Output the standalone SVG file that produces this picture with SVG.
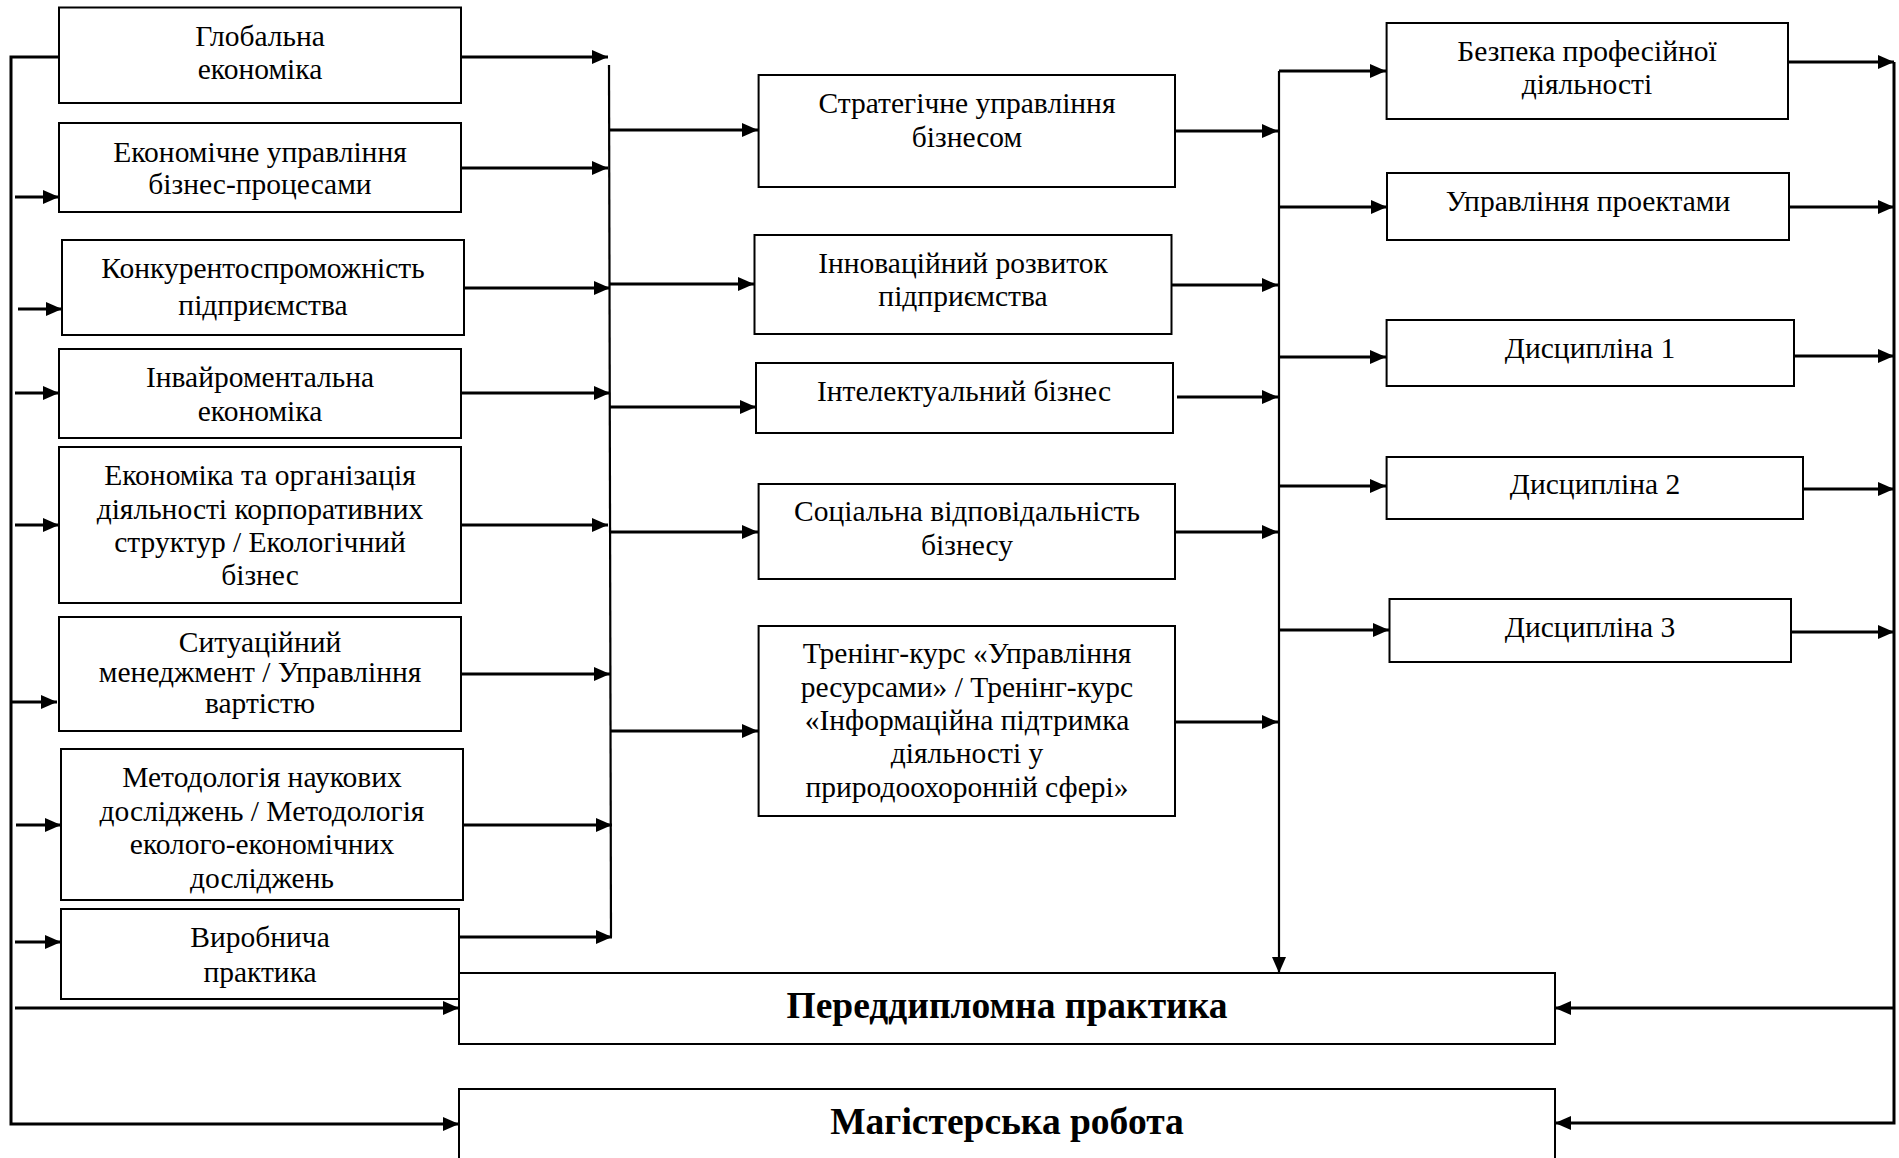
<svg xmlns="http://www.w3.org/2000/svg" width="1899" height="1158" viewBox="0 0 1899 1158">
<defs>
<marker id="ah" markerUnits="userSpaceOnUse" markerWidth="16" markerHeight="14" refX="16" refY="7" orient="auto">
<path d="M0,0 L16,7 L0,14 z" fill="#000"/>
</marker>
<style>
.box{fill:#fff;stroke:#000;stroke-width:2}
.t{font-family:"Liberation Serif","Times New Roman",serif;font-size:29.5px;fill:#000;text-anchor:middle}
.b{font-family:"Liberation Serif","Times New Roman",serif;font-size:37.5px;font-weight:bold;fill:#000;text-anchor:middle}
.c{stroke:#000;stroke-width:3;fill:none}
.a{stroke:#000;stroke-width:3;fill:none;marker-end:url(#ah)}
.bus{stroke:#000;stroke-width:2.2;fill:none}
</style>
</defs>
<rect width="1899" height="1158" fill="#fff"/>
<g id="connectors">
<path class="a" d="M59,57 H11 V1124 H459"/>
<line class="a" x1="15" y1="197" x2="59" y2="197"/>
<line class="a" x1="18" y1="309" x2="62" y2="309"/>
<line class="a" x1="15" y1="393" x2="59" y2="393"/>
<line class="a" x1="15" y1="525" x2="59" y2="525"/>
<line class="a" x1="11" y1="702" x2="57" y2="702"/>
<line class="a" x1="16" y1="825" x2="61" y2="825"/>
<line class="a" x1="15" y1="942" x2="61" y2="942"/>
<line class="a" x1="15" y1="1008" x2="459" y2="1008"/>
<line class="a" x1="461" y1="57" x2="608" y2="57"/>
<line class="a" x1="461" y1="168" x2="608" y2="168"/>
<line class="a" x1="464" y1="288" x2="610" y2="288"/>
<line class="a" x1="461" y1="393" x2="610" y2="393"/>
<line class="a" x1="461" y1="525" x2="608" y2="525"/>
<line class="a" x1="461" y1="674" x2="610" y2="674"/>
<line class="a" x1="463" y1="825" x2="612" y2="825"/>
<line class="a" x1="459" y1="937" x2="612" y2="937"/>
<line class="bus" x1="609" y1="65" x2="611" y2="937"/>
<line class="a" x1="609" y1="130" x2="758" y2="130"/>
<line class="a" x1="609" y1="284" x2="754" y2="284"/>
<line class="a" x1="609" y1="407" x2="756" y2="407"/>
<line class="a" x1="611" y1="532" x2="758" y2="532"/>
<line class="a" x1="611" y1="731" x2="758" y2="731"/>
<line class="a" x1="1175" y1="131" x2="1278" y2="131"/>
<line class="a" x1="1172" y1="285" x2="1278" y2="285"/>
<line class="a" x1="1177" y1="397" x2="1278" y2="397"/>
<line class="a" x1="1175" y1="532" x2="1278" y2="532"/>
<line class="a" x1="1175" y1="722" x2="1278" y2="722"/>
<line class="bus" x1="1279" y1="71" x2="1279" y2="973" marker-end="url(#ah)"/>
<line class="a" x1="1279" y1="71" x2="1386" y2="71"/>
<line class="a" x1="1279" y1="207" x2="1387" y2="207"/>
<line class="a" x1="1279" y1="357" x2="1386" y2="357"/>
<line class="a" x1="1279" y1="486" x2="1386" y2="486"/>
<line class="a" x1="1279" y1="630" x2="1389" y2="630"/>
<line class="a" x1="1788" y1="62" x2="1894" y2="62"/>
<line class="a" x1="1789" y1="207" x2="1894" y2="207"/>
<line class="a" x1="1794" y1="356" x2="1894" y2="356"/>
<line class="a" x1="1803" y1="489" x2="1894" y2="489"/>
<line class="a" x1="1791" y1="632" x2="1894" y2="632"/>
<path class="a" d="M1894,62 V1123 H1555"/>
<line class="a" x1="1894" y1="1008" x2="1555" y2="1008"/>
</g>
<g id="n1"><rect class="box" x="59" y="7.5" width="402" height="95.5"/><text class="t" x="260" y="46">Глобальна</text><text class="t" x="260" y="79">економіка</text></g>
<g id="n2"><rect class="box" x="59" y="123" width="402" height="89"/><text class="t" x="260" y="162">Економічне управління</text><text class="t" x="260" y="194">бізнес-процесами</text></g>
<g id="n3"><rect class="box" x="62" y="240" width="402" height="95"/><text class="t" x="263" y="278">Конкурентоспроможність</text><text class="t" x="263" y="315">підприємства</text></g>
<g id="n4"><rect class="box" x="59" y="349" width="402" height="89"/><text class="t" x="260" y="387">Інвайроментальна</text><text class="t" x="260" y="421">економіка</text></g>
<g id="n5"><rect class="box" x="59" y="447" width="402" height="156"/><text class="t" x="260" y="485">Економіка та організація</text><text class="t" x="260" y="519">діяльності корпоративних</text><text class="t" x="260" y="552">структур / Екологічний</text><text class="t" x="260" y="585">бізнес</text></g>
<g id="n6"><rect class="box" x="59" y="617" width="402" height="114"/><text class="t" x="260" y="652">Ситуаційний</text><text class="t" x="260" y="682">менеджмент / Управління</text><text class="t" x="260" y="713">вартістю</text></g>
<g id="n7"><rect class="box" x="61" y="749" width="402" height="151"/><text class="t" x="262" y="787">Методологія наукових</text><text class="t" x="262" y="821">досліджень / Методологія</text><text class="t" x="262" y="854">еколого-економічних</text><text class="t" x="262" y="888">досліджень</text></g>
<g id="n8"><rect class="box" x="61" y="909" width="398" height="90"/><text class="t" x="260" y="947">Виробнича</text><text class="t" x="260" y="982">практика</text></g>
<g id="m1"><rect class="box" x="758.6" y="75" width="416.4" height="112"/><text class="t" x="967" y="113">Стратегічне управління</text><text class="t" x="967" y="147">бізнесом</text></g>
<g id="m2"><rect class="box" x="754.5" y="235" width="417" height="99"/><text class="t" x="963" y="273">Інноваційний розвиток</text><text class="t" x="963" y="306">підприємства</text></g>
<g id="m3"><rect class="box" x="756" y="363" width="417" height="70"/><text class="t" x="964" y="401">Інтелектуальний бізнес</text></g>
<g id="m4"><rect class="box" x="758.6" y="484" width="416.4" height="95"/><text class="t" x="967" y="521">Соціальна відповідальність</text><text class="t" x="967" y="555">бізнесу</text></g>
<g id="m5"><rect class="box" x="758.6" y="626" width="416.4" height="190"/><text class="t" x="967" y="663">Тренінг-курс «Управління</text><text class="t" x="967" y="697">ресурсами» / Тренінг-курс</text><text class="t" x="967" y="730">«Інформаційна підтримка</text><text class="t" x="967" y="763">діяльності у</text><text class="t" x="967" y="797">природоохоронній сфері»</text></g>
<g id="r1"><rect class="box" x="1386.6" y="23" width="401.4" height="96"/><text class="t" x="1587" y="61">Безпека професійної</text><text class="t" x="1587" y="94">діяльності</text></g>
<g id="r2"><rect class="box" x="1387" y="173" width="402" height="67"/><text class="t" x="1588" y="211">Управління проектами</text></g>
<g id="r3"><rect class="box" x="1386.6" y="320" width="407.4" height="66"/><text class="t" x="1590" y="358">Дисципліна 1</text></g>
<g id="r4"><rect class="box" x="1386.6" y="457" width="416.4" height="62"/><text class="t" x="1595" y="494">Дисципліна 2</text></g>
<g id="r5"><rect class="box" x="1389.5" y="599" width="401.5" height="63"/><text class="t" x="1590" y="637">Дисципліна 3</text></g>
<g id="b1"><rect class="box" x="459" y="973" width="1096" height="71"/><text class="b" x="1007" y="1018">Переддипломна практика</text></g>
<g id="b2"><rect class="box" x="459" y="1089" width="1096" height="100"/><text class="b" x="1007" y="1134">Магістерська робота</text></g>
</svg>
